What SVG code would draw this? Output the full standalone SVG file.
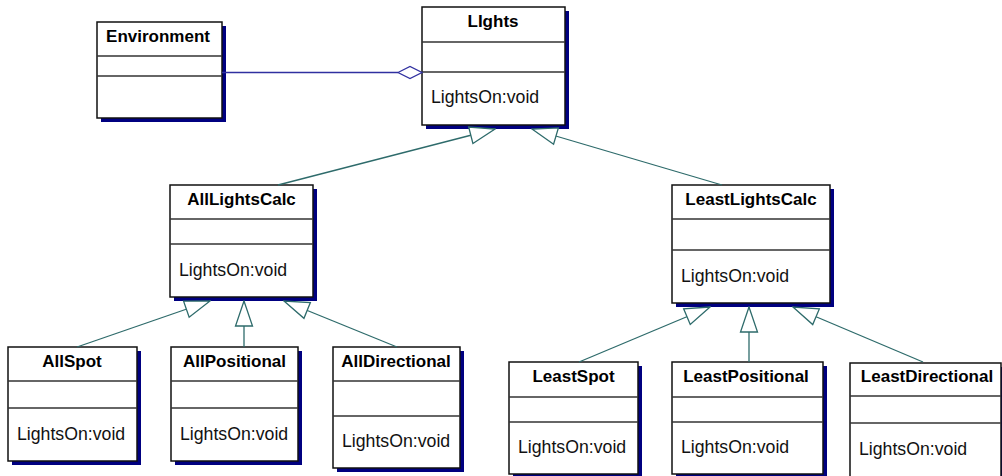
<svg xmlns="http://www.w3.org/2000/svg" width="1002" height="476" viewBox="0 0 1002 476">
<style>
.sh{fill:#000080;stroke:none}
.bx{fill:#fff;stroke:#111;stroke-width:1.5}
.dv{stroke:#333;stroke-width:1.3}
.t{font-family:"Liberation Sans",Arial,sans-serif;font-weight:bold;font-size:17px;fill:#000;text-anchor:middle}
.m{font-family:"Liberation Sans",Arial,sans-serif;font-size:17.7px;fill:#111}
.gen{stroke:#2e6b6b;stroke-width:1.3;fill:none}
.agg{stroke:#3030a0;stroke-width:1.3;fill:none}
</style>
<defs>
<marker id="tri" markerUnits="userSpaceOnUse" viewBox="0 0 28 20" markerWidth="28" markerHeight="20" refX="27" refY="10" orient="auto">
<path d="M27,10 L2,1.5 L2,18.5 Z" fill="#fff" stroke="#2e6b6b" stroke-width="1.3"/>
</marker>
</defs>
<rect width="1002" height="476" fill="#fff"/>

<g id="Environment">
<rect class="sh" x="101" y="26" width="125" height="96"/>
<rect class="bx" x="97" y="22" width="125" height="96"/>
<line class="dv" x1="97" y1="56" x2="222" y2="56"/>
<line class="dv" x1="97" y1="76" x2="222" y2="76"/>
<text class="t" x="158" y="42">Environment</text>
</g>

<g id="Lights">
<rect class="sh" x="426" y="11" width="143" height="118"/>
<rect class="bx" x="422" y="7" width="143" height="118"/>
<line class="dv" x1="422" y1="42" x2="565" y2="42"/>
<line class="dv" x1="422" y1="72" x2="565" y2="72"/>
<text class="t" x="493" y="27">LIghts</text>
<text class="m" x="431" y="103">LightsOn:void</text>
</g>

<g id="AllLightsCalc">
<rect class="sh" x="174" y="189" width="143" height="112"/>
<rect class="bx" x="170" y="185" width="143" height="112"/>
<line class="dv" x1="170" y1="219" x2="313" y2="219"/>
<line class="dv" x1="170" y1="244" x2="313" y2="244"/>
<text class="t" x="241.5" y="205">AllLightsCalc</text>
<text class="m" x="179" y="276">LightsOn:void</text>
</g>

<g id="LeastLightsCalc">
<rect class="sh" x="676" y="189" width="158" height="118"/>
<rect class="bx" x="672" y="185" width="158" height="118"/>
<line class="dv" x1="672" y1="219" x2="830" y2="219"/>
<line class="dv" x1="672" y1="250" x2="830" y2="250"/>
<text class="t" x="751" y="205">LeastLightsCalc</text>
<text class="m" x="681" y="282">LightsOn:void</text>
</g>

<g id="AllSpot">
<rect class="sh" x="12" y="351" width="129" height="114"/>
<rect class="bx" x="8" y="347" width="129" height="114"/>
<line class="dv" x1="8" y1="381" x2="137" y2="381"/>
<line class="dv" x1="8" y1="408" x2="137" y2="408"/>
<text class="t" x="72" y="367">AllSpot</text>
<text class="m" x="17" y="440">LightsOn:void</text>
</g>

<g id="AllPositional">
<rect class="sh" x="175" y="351" width="127" height="114"/>
<rect class="bx" x="171" y="347" width="127" height="114"/>
<line class="dv" x1="171" y1="381" x2="298" y2="381"/>
<line class="dv" x1="171" y1="408" x2="298" y2="408"/>
<text class="t" x="234.5" y="367">AllPositional</text>
<text class="m" x="180" y="440">LightsOn:void</text>
</g>

<g id="AllDirectional">
<rect class="sh" x="337" y="351" width="127" height="121"/>
<rect class="bx" x="333" y="347" width="127" height="121"/>
<line class="dv" x1="333" y1="381" x2="460" y2="381"/>
<line class="dv" x1="333" y1="416" x2="460" y2="416"/>
<text class="t" x="396" y="367">AllDirectional</text>
<text class="m" x="342" y="447">LightsOn:void</text>
</g>

<g id="LeastSpot">
<rect class="sh" x="513" y="366" width="129" height="112"/>
<rect class="bx" x="509" y="362" width="129" height="112"/>
<line class="dv" x1="509" y1="397" x2="638" y2="397"/>
<line class="dv" x1="509" y1="422" x2="638" y2="422"/>
<text class="t" x="573.5" y="382">LeastSpot</text>
<text class="m" x="518" y="453">LightsOn:void</text>
</g>

<g id="LeastPositional">
<rect class="sh" x="676" y="366" width="151" height="112"/>
<rect class="bx" x="672" y="362" width="151" height="112"/>
<line class="dv" x1="672" y1="397" x2="823" y2="397"/>
<line class="dv" x1="672" y1="422" x2="823" y2="422"/>
<text class="t" x="746" y="382">LeastPositional</text>
<text class="m" x="681" y="453">LightsOn:void</text>
</g>

<g id="LeastDirectional">
<rect class="sh" x="854" y="367" width="151" height="120"/>
<rect class="bx" x="850" y="363" width="151" height="120"/>
<line class="dv" x1="850" y1="396" x2="1001" y2="396"/>
<line class="dv" x1="850" y1="423" x2="1001" y2="423"/>
<text class="t" x="927" y="382">LeastDirectional</text>
<text class="m" x="859" y="455">LightsOn:void</text>
</g>

<g id="connectors">
<line class="agg" x1="222" y1="72.5" x2="398" y2="72.5"/>
<polygon points="398,72.5 410,66.5 422,72.5 410,78.5" fill="#fff" stroke="#3030a0" stroke-width="1.3"/>
<line class="gen" x1="278" y1="185" x2="495" y2="129" marker-end="url(#tri)"/>
<line class="gen" x1="722" y1="185" x2="532" y2="129" marker-end="url(#tri)"/>
<line class="gen" x1="77" y1="347" x2="210" y2="301" marker-end="url(#tri)"/>
<line class="gen" x1="244" y1="347" x2="244" y2="301" marker-end="url(#tri)"/>
<line class="gen" x1="397" y1="347" x2="284" y2="301" marker-end="url(#tri)"/>
<line class="gen" x1="579" y1="362" x2="710" y2="307" marker-end="url(#tri)"/>
<line class="gen" x1="749" y1="362" x2="749" y2="307" marker-end="url(#tri)"/>
<line class="gen" x1="923" y1="362" x2="793" y2="307" marker-end="url(#tri)"/>
</g>
</svg>
